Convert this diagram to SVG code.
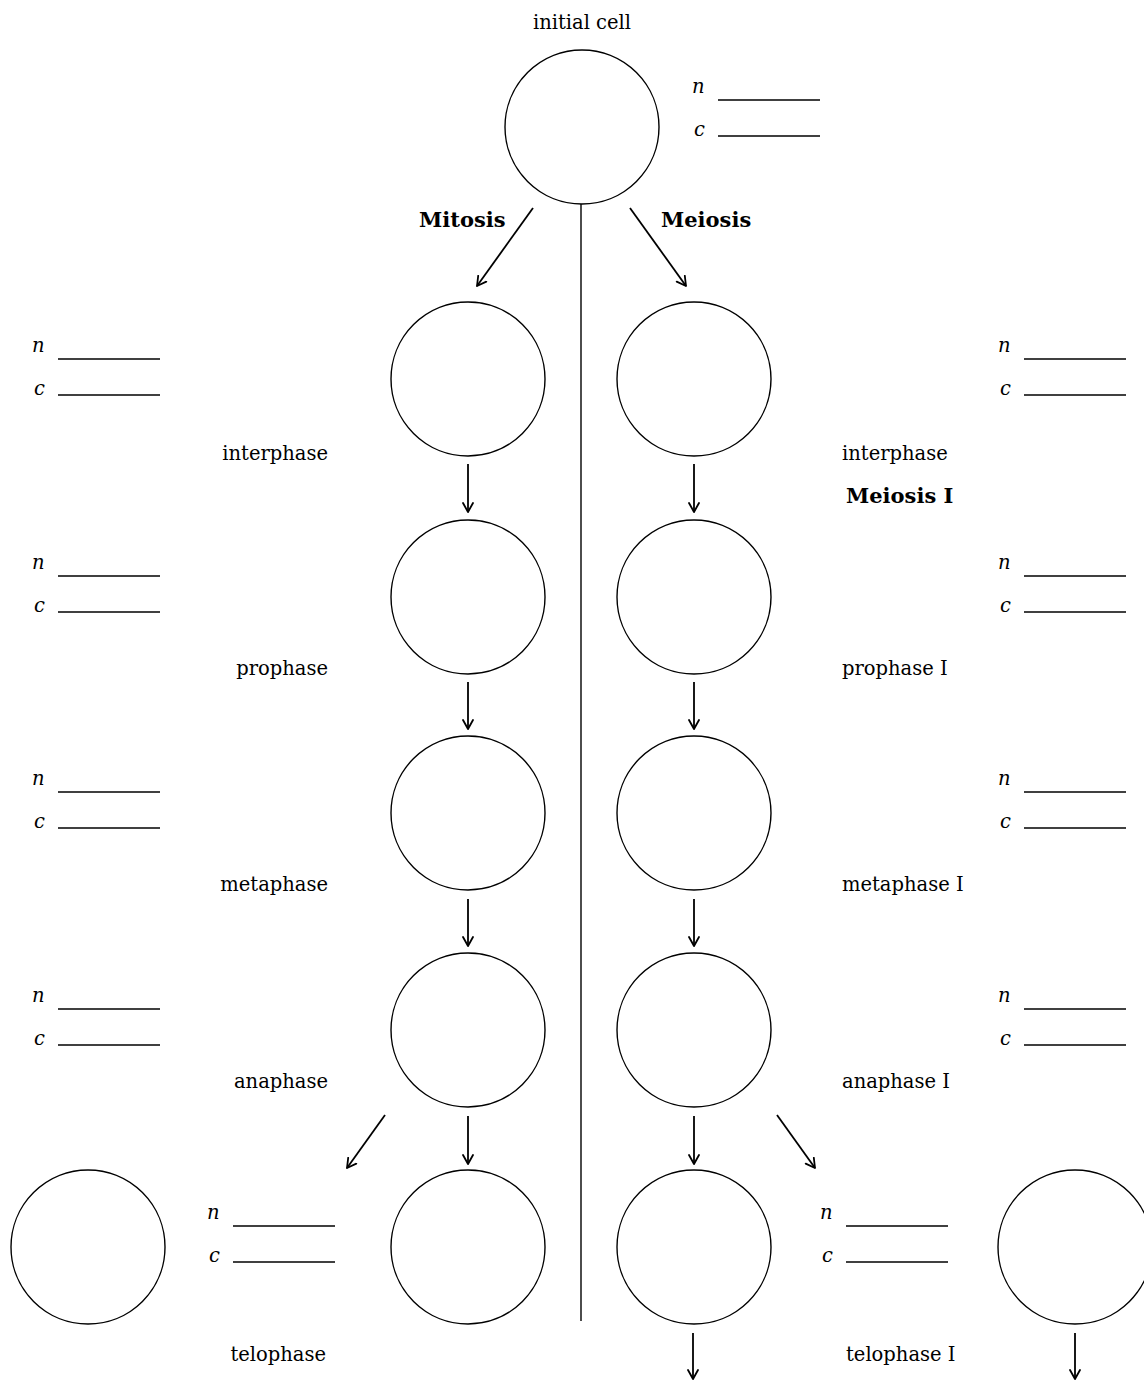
<svg xmlns="http://www.w3.org/2000/svg" width="1144" height="1381" viewBox="0 0 1144 1381">
  <defs>
    <style>
      .cell { fill: none; stroke: #000; stroke-width: 1.4; }
      .blank { stroke: #000; stroke-width: 1.3; }
      .conn { fill: none; stroke: #000; stroke-width: 1.8; marker-end: url(#head); }
      .divider { stroke: #000; stroke-width: 1.4; }
      text { font-family: "DejaVu Serif", "Liberation Serif", serif; font-size: 19.5px; fill: #000; }
      .var { font-style: italic; }
      .title { font-weight: bold; font-size: 21px; }
      .r { text-anchor: end; }
      .m { text-anchor: middle; }
    </style>
    <marker id="head" viewBox="0 0 12 12" refX="10" refY="6" markerWidth="12" markerHeight="12" markerUnits="userSpaceOnUse" orient="auto">
      <path d="M1,1 L10,6 L1,11" fill="none" stroke="#000" stroke-width="1.8" stroke-linecap="round" stroke-linejoin="round"/>
    </marker>
    <!-- n / c answer blanks -->
    <g id="nc">
      <text class="var" x="-5" y="-7">n</text>
      <text class="var" x="-3" y="36">c</text>
      <line class="blank" x1="21" y1="0" x2="123" y2="0"/>
      <line class="blank" x1="21" y1="36" x2="123" y2="36"/>
    </g>
  </defs>
  <rect width="1144" height="1381" fill="#fff"/>

  <!-- starting cell -->
  <g id="initial">
    <text class="m" x="582" y="29">initial cell</text>
    <circle class="cell" cx="582" cy="127" r="77"/>
    <use href="#nc" x="697" y="100"/>
  </g>

  <g id="headings">
    <text class="title" x="419" y="227">Mitosis</text>
    <text class="title" x="661" y="227">Meiosis</text>
    <text class="title" x="846" y="503">Meiosis I</text>
  </g>

  <!-- mitosis column -->
  <g id="mitosis-interphase">
    <circle class="cell" cx="468" cy="379" r="77"/>
    <use href="#nc" x="37" y="359"/>
    <text class="r" x="328" y="460">interphase</text>
  </g>
  <g id="mitosis-prophase">
    <circle class="cell" cx="468" cy="597" r="77"/>
    <use href="#nc" x="37" y="576"/>
    <text class="r" x="328" y="675">prophase</text>
  </g>
  <g id="mitosis-metaphase">
    <circle class="cell" cx="468" cy="813" r="77"/>
    <use href="#nc" x="37" y="792"/>
    <text class="r" x="328" y="891">metaphase</text>
  </g>
  <g id="mitosis-anaphase">
    <circle class="cell" cx="468" cy="1030" r="77"/>
    <use href="#nc" x="37" y="1009"/>
    <text class="r" x="328" y="1088">anaphase</text>
  </g>
  <g id="mitosis-telophase">
    <circle class="cell" cx="88" cy="1247" r="77"/>
    <circle class="cell" cx="468" cy="1247" r="77"/>
    <use href="#nc" x="212" y="1226"/>
    <text class="r" x="326" y="1361">telophase</text>
  </g>

  <!-- meiosis column -->
  <g id="meiosis-interphase">
    <circle class="cell" cx="694" cy="379" r="77"/>
    <use href="#nc" x="1003" y="359"/>
    <text x="842" y="460">interphase</text>
  </g>
  <g id="meiosis-prophase1">
    <circle class="cell" cx="694" cy="597" r="77"/>
    <use href="#nc" x="1003" y="576"/>
    <text x="842" y="675">prophase I</text>
  </g>
  <g id="meiosis-metaphase1">
    <circle class="cell" cx="694" cy="813" r="77"/>
    <use href="#nc" x="1003" y="792"/>
    <text x="842" y="891">metaphase I</text>
  </g>
  <g id="meiosis-anaphase1">
    <circle class="cell" cx="694" cy="1030" r="77"/>
    <use href="#nc" x="1003" y="1009"/>
    <text x="842" y="1088">anaphase I</text>
  </g>
  <g id="meiosis-telophase1">
    <circle class="cell" cx="694" cy="1247" r="77"/>
    <circle class="cell" cx="1075" cy="1247" r="77"/>
    <use href="#nc" x="825" y="1226"/>
    <text x="846" y="1361">telophase I</text>
  </g>

  <!-- divider and arrows -->
  <g id="connectors">
    <line class="divider" x1="581" y1="204" x2="581" y2="1321"/>
    <line class="conn" x1="533" y1="208" x2="477" y2="286"/>
    <line class="conn" x1="630" y1="208" x2="686" y2="286"/>

    <line class="conn" x1="468" y1="464" x2="468" y2="512"/>
    <line class="conn" x1="468" y1="682" x2="468" y2="729"/>
    <line class="conn" x1="468" y1="899" x2="468" y2="946"/>
    <line class="conn" x1="468" y1="1116" x2="468" y2="1164"/>
    <line class="conn" x1="385" y1="1115" x2="347" y2="1168"/>

    <line class="conn" x1="694" y1="464" x2="694" y2="512"/>
    <line class="conn" x1="694" y1="682" x2="694" y2="729"/>
    <line class="conn" x1="694" y1="899" x2="694" y2="946"/>
    <line class="conn" x1="694" y1="1116" x2="694" y2="1164"/>
    <line class="conn" x1="777" y1="1115" x2="815" y2="1168"/>

    <line class="conn" x1="693" y1="1333" x2="693" y2="1379"/>
    <line class="conn" x1="1075" y1="1333" x2="1075" y2="1379"/>
  </g>
</svg>
